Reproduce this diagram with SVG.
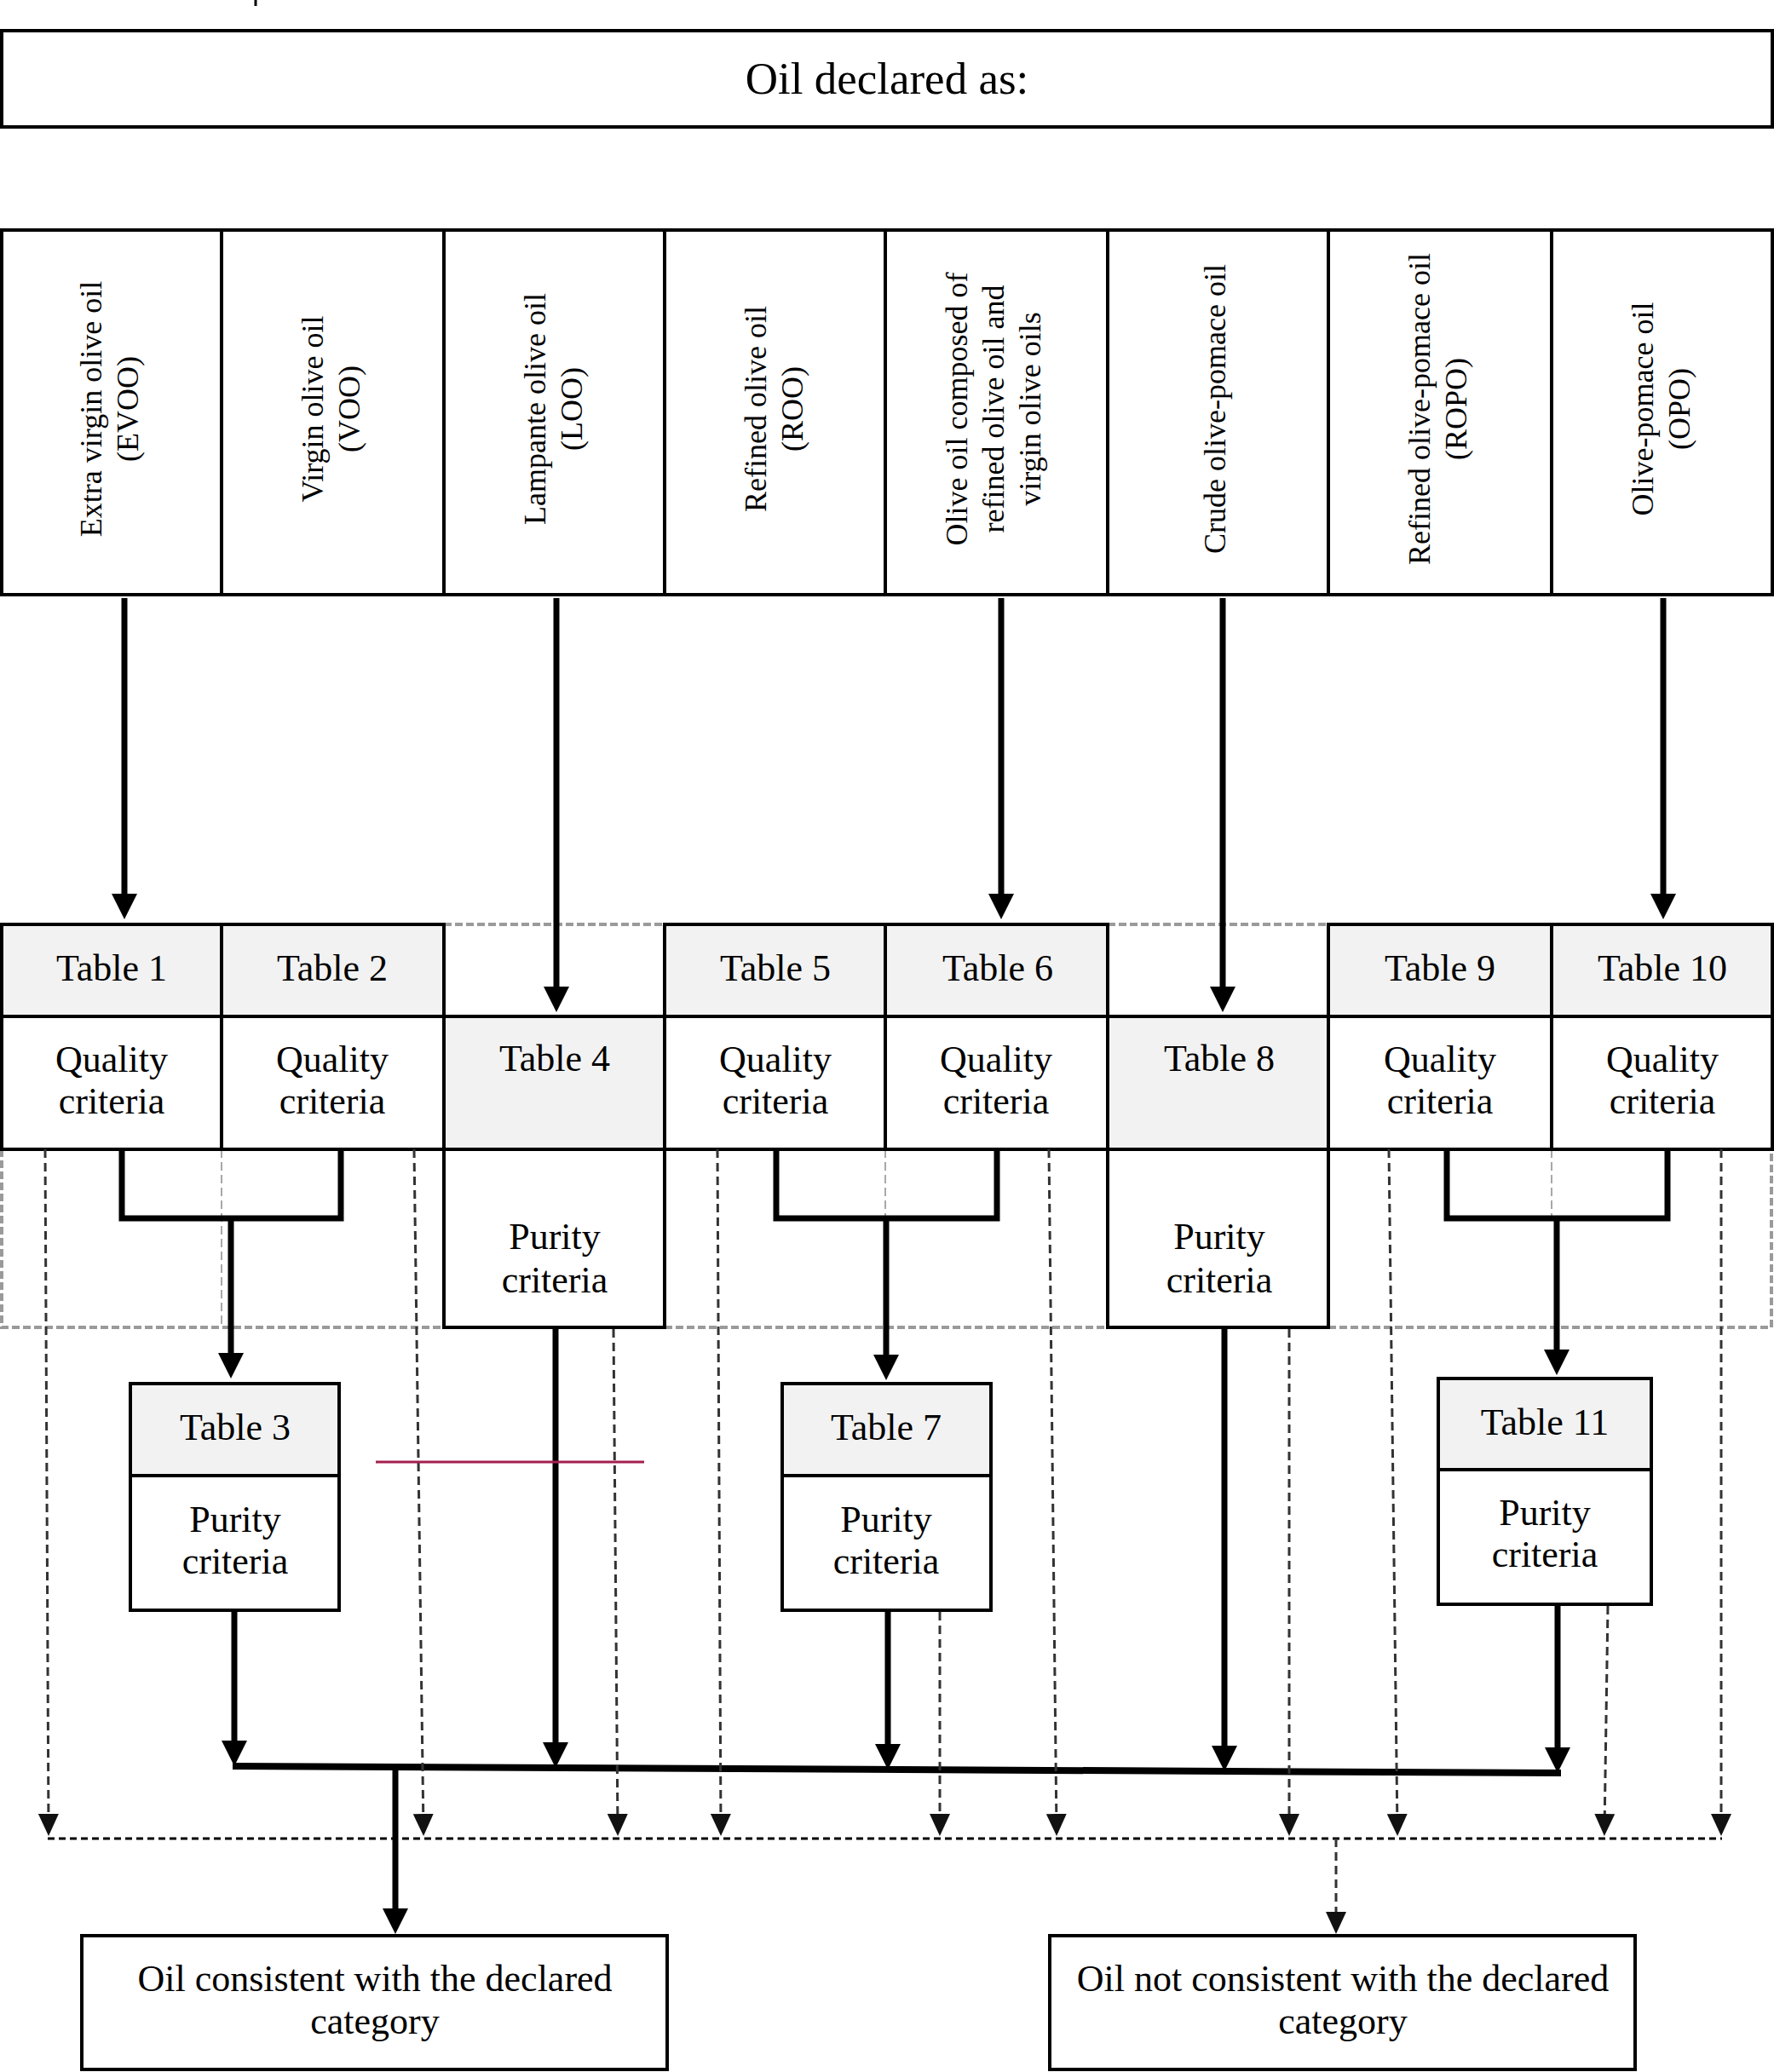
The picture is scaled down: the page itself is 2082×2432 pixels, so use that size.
<svg xmlns="http://www.w3.org/2000/svg" width="2082" height="2432" viewBox="0 0 2082 2432" font-family="'Liberation Serif', serif">
<defs>
<style>
text{font-family:'Liberation Serif',serif;fill:#000}
.c{font-family:'Liberation Serif',serif;text-anchor:middle;font-size:44px}
.v{font-family:'Liberation Serif',serif;text-anchor:middle;font-size:36px}
.t{font-family:'Liberation Serif',serif;text-anchor:middle;font-size:53px}
.b{fill:#fff;stroke:#000;stroke-width:4}
.g{fill:#f2f2f2;stroke:#000;stroke-width:4}
.th{fill:none;stroke:#000;stroke-width:7}
.bus{fill:none;stroke:#000;stroke-width:8}
.gd{fill:none;stroke:#9a9a9a;stroke-width:4;stroke-dasharray:9 4}
.gt{fill:none;stroke:#a8a8a8;stroke-width:2;stroke-dasharray:10 5}
.da{fill:none;stroke:#333;stroke-width:3;stroke-dasharray:10 6}
.db{fill:none;stroke:#000;stroke-width:3;stroke-dasharray:8 5}
</style>
<marker id="ah" markerUnits="userSpaceOnUse" viewBox="0 0 30 30" markerWidth="30" markerHeight="30" refX="22" refY="15" orient="auto"><path d="M0,0 L30,15 L0,30 z" fill="#000"/></marker>
<marker id="dh" markerUnits="userSpaceOnUse" viewBox="0 0 26 24" markerWidth="26" markerHeight="24" refX="20" refY="12" orient="auto"><path d="M0,0 L26,12 L0,24 z" fill="#111"/></marker>
</defs>
<rect width="2082" height="2432" fill="#fff"/>
<line x1="300" y1="0" x2="300" y2="7" stroke="#000" stroke-width="3"/>

<g id="declared">
<rect class="b" x="2" y="36" width="2078" height="113"/>
<text class="t" x="1041" y="110">Oil declared as:</text>
</g>

<g id="categories">
<g id="cat-evoo"><rect class="b" x="2" y="270" width="258" height="428"/>
<text class="v" transform="translate(132,480) rotate(-90)"><tspan x="0" y="-13">Extra virgin olive oil</tspan><tspan x="0" y="30">(EVOO)</tspan></text></g>
<g id="cat-voo"><rect class="b" x="260" y="270" width="261" height="428"/>
<text class="v" transform="translate(392,480) rotate(-90)"><tspan x="0" y="-13">Virgin olive oil</tspan><tspan x="0" y="30">(VOO)</tspan></text></g>
<g id="cat-loo"><rect class="b" x="521" y="270" width="259" height="428"/>
<text class="v" transform="translate(653,480) rotate(-90)"><tspan x="0" y="-13">Lampante olive oil</tspan><tspan x="0" y="30">(LOO)</tspan></text></g>
<g id="cat-roo"><rect class="b" x="780" y="270" width="259" height="428"/>
<text class="v" transform="translate(912,480) rotate(-90)"><tspan x="0" y="-13">Refined olive oil</tspan><tspan x="0" y="30">(ROO)</tspan></text></g>
<g id="cat-oo"><rect class="b" x="1039" y="270" width="261" height="428"/>
<text class="v" transform="translate(1170,480) rotate(-90)"><tspan x="0" y="-35">Olive oil composed of</tspan><tspan x="0" y="8">refined olive oil and</tspan><tspan x="0" y="51">virgin olive oils</tspan></text></g>
<g id="cat-cpo"><rect class="b" x="1300" y="270" width="259" height="428"/>
<text class="v" transform="translate(1430,480) rotate(-90)"><tspan x="0" y="8">Crude olive-pomace oil</tspan></text></g>
<g id="cat-ropo"><rect class="b" x="1559" y="270" width="262" height="428"/>
<text class="v" transform="translate(1691,480) rotate(-90)"><tspan x="0" y="-13">Refined olive-pomace oil</tspan><tspan x="0" y="30">(ROPO)</tspan></text></g>
<g id="cat-opo"><rect class="b" x="1821" y="270" width="259" height="428"/>
<text class="v" transform="translate(1953,480) rotate(-90)"><tspan x="0" y="-13">Olive-pomace oil</tspan><tspan x="0" y="30">(OPO)</tspan></text></g>
</g>

<g id="dashed-frame">
<path class="gd" d="M521,1085 H780 M1300,1085 H1559"/>
<path class="gd" d="M2,1349 V1558 H521 M780,1558 H1300 M1559,1558 H2079 V1349"/>
<path class="gt" d="M260,1349 V1558 M1039,1349 V1428 M1821,1349 V1428"/>
</g>

<g id="tables">
<g id="t1"><rect class="g" x="2" y="1085" width="258" height="108"/><text class="c" x="131" y="1151">Table 1</text>
<rect class="b" x="2" y="1193" width="258" height="156"/><text class="c" x="131" y="1258">Quality</text><text class="c" x="131" y="1307">criteria</text></g>
<g id="t2"><rect class="g" x="260" y="1085" width="261" height="108"/><text class="c" x="390" y="1151">Table 2</text>
<rect class="b" x="260" y="1193" width="261" height="156"/><text class="c" x="390" y="1258">Quality</text><text class="c" x="390" y="1307">criteria</text></g>
<g id="t4"><rect class="g" x="521" y="1193" width="259" height="156"/><text class="c" x="651" y="1257">Table 4</text>
<rect class="b" x="521" y="1349" width="259" height="209"/><text class="c" x="651" y="1466">Purity</text><text class="c" x="651" y="1517">criteria</text></g>
<g id="t5"><rect class="g" x="780" y="1085" width="259" height="108"/><text class="c" x="910" y="1151">Table 5</text>
<rect class="b" x="780" y="1193" width="259" height="156"/><text class="c" x="910" y="1258">Quality</text><text class="c" x="910" y="1307">criteria</text></g>
<g id="t6"><rect class="g" x="1039" y="1085" width="261" height="108"/><text class="c" x="1171" y="1151">Table 6</text>
<rect class="b" x="1039" y="1193" width="261" height="156"/><text class="c" x="1169" y="1258">Quality</text><text class="c" x="1169" y="1307">criteria</text></g>
<g id="t8"><rect class="g" x="1300" y="1193" width="259" height="156"/><text class="c" x="1431" y="1257">Table 8</text>
<rect class="b" x="1300" y="1349" width="259" height="209"/><text class="c" x="1431" y="1466">Purity</text><text class="c" x="1431" y="1517">criteria</text></g>
<g id="t9"><rect class="g" x="1559" y="1085" width="262" height="108"/><text class="c" x="1690" y="1151">Table 9</text>
<rect class="b" x="1559" y="1193" width="262" height="156"/><text class="c" x="1690" y="1258">Quality</text><text class="c" x="1690" y="1307">criteria</text></g>
<g id="t10"><rect class="g" x="1821" y="1085" width="259" height="108"/><text class="c" x="1951" y="1151">Table 10</text>
<rect class="b" x="1821" y="1193" width="259" height="156"/><text class="c" x="1951" y="1258">Quality</text><text class="c" x="1951" y="1307">criteria</text></g>
<g id="t3"><rect class="g" x="153" y="1624" width="245" height="108"/><text class="c" x="276" y="1690">Table 3</text>
<rect class="b" x="153" y="1732" width="245" height="158"/><text class="c" x="276" y="1798">Purity</text><text class="c" x="276" y="1847">criteria</text></g>
<g id="t7"><rect class="g" x="918" y="1624" width="245" height="108"/><text class="c" x="1040" y="1690">Table 7</text>
<rect class="b" x="918" y="1732" width="245" height="158"/><text class="c" x="1040" y="1798">Purity</text><text class="c" x="1040" y="1847">criteria</text></g>
<g id="t11"><rect class="g" x="1688" y="1618" width="250" height="107"/><text class="c" x="1813" y="1684">Table 11</text>
<rect class="b" x="1688" y="1725" width="250" height="158"/><text class="c" x="1813" y="1790">Purity</text><text class="c" x="1813" y="1839">criteria</text></g>
</g>

<g id="results">
<g id="consistent"><rect class="b" x="96" y="2272" width="687" height="157"/>
<text class="c" x="440" y="2337">Oil consistent with the declared</text><text class="c" x="440" y="2387">category</text></g>
<g id="not-consistent"><rect class="b" x="1232" y="2272" width="687" height="157"/>
<text class="c" x="1576" y="2337">Oil not consistent with the declared</text><text class="c" x="1576" y="2387">category</text></g>
</g>

<g id="connectors">
<path class="th" marker-end="url(#ah)" d="M146,702 V1071"/>
<path class="th" marker-end="url(#ah)" d="M653,702 V1180"/>
<path class="th" marker-end="url(#ah)" d="M1175,702 V1071"/>
<path class="th" marker-end="url(#ah)" d="M1435,702 V1180"/>
<path class="th" marker-end="url(#ah)" d="M1952,702 V1071"/>
<path class="th" d="M143,1349 V1430 H400 V1349"/>
<path class="th" d="M911,1349 V1430 H1170 V1349"/>
<path class="th" d="M1698,1349 V1430 H1957 V1349"/>
<path class="th" marker-end="url(#ah)" d="M271,1430 V1610"/>
<path class="th" marker-end="url(#ah)" d="M1040,1430 V1612"/>
<path class="th" marker-end="url(#ah)" d="M1827,1430 V1606"/>
<path class="th" marker-end="url(#ah)" d="M275,1890 V2065"/>
<path class="th" marker-end="url(#ah)" d="M652,1558 V2067"/>
<path class="th" marker-end="url(#ah)" d="M1042,1890 V2069"/>
<path class="th" marker-end="url(#ah)" d="M1437,1558 V2071"/>
<path class="th" marker-end="url(#ah)" d="M1828,1883 V2073"/>
<path class="bus" d="M273,2073 L1832,2081"/>
<path class="th" marker-end="url(#ah)" d="M464,2076 V2262"/>
<path class="da" marker-end="url(#dh)" d="M53,1349 L57,2149"/>
<path class="da" marker-end="url(#dh)" d="M486,1349 L497,2149"/>
<path class="da" marker-end="url(#dh)" d="M720,1560 L725,2149"/>
<path class="da" marker-end="url(#dh)" d="M842,1349 L846,2149"/>
<path class="da" marker-end="url(#dh)" d="M1103,1892 L1103,2149"/>
<path class="da" marker-end="url(#dh)" d="M1231,1349 L1240,2149"/>
<path class="da" marker-end="url(#dh)" d="M1513,1560 L1513,2149"/>
<path class="da" marker-end="url(#dh)" d="M1630,1349 L1640,2149"/>
<path class="da" marker-end="url(#dh)" d="M1887,1885 L1883,2149"/>
<path class="da" marker-end="url(#dh)" d="M2020,1349 L2020,2149"/>
<path class="db" d="M56,2158 H2021"/>
<path class="da" marker-end="url(#dh)" d="M1568,2158 V2264"/>
<line x1="441" y1="1716" x2="756" y2="1716" stroke="#a31f4f" stroke-width="3"/>
</g>
</svg>
